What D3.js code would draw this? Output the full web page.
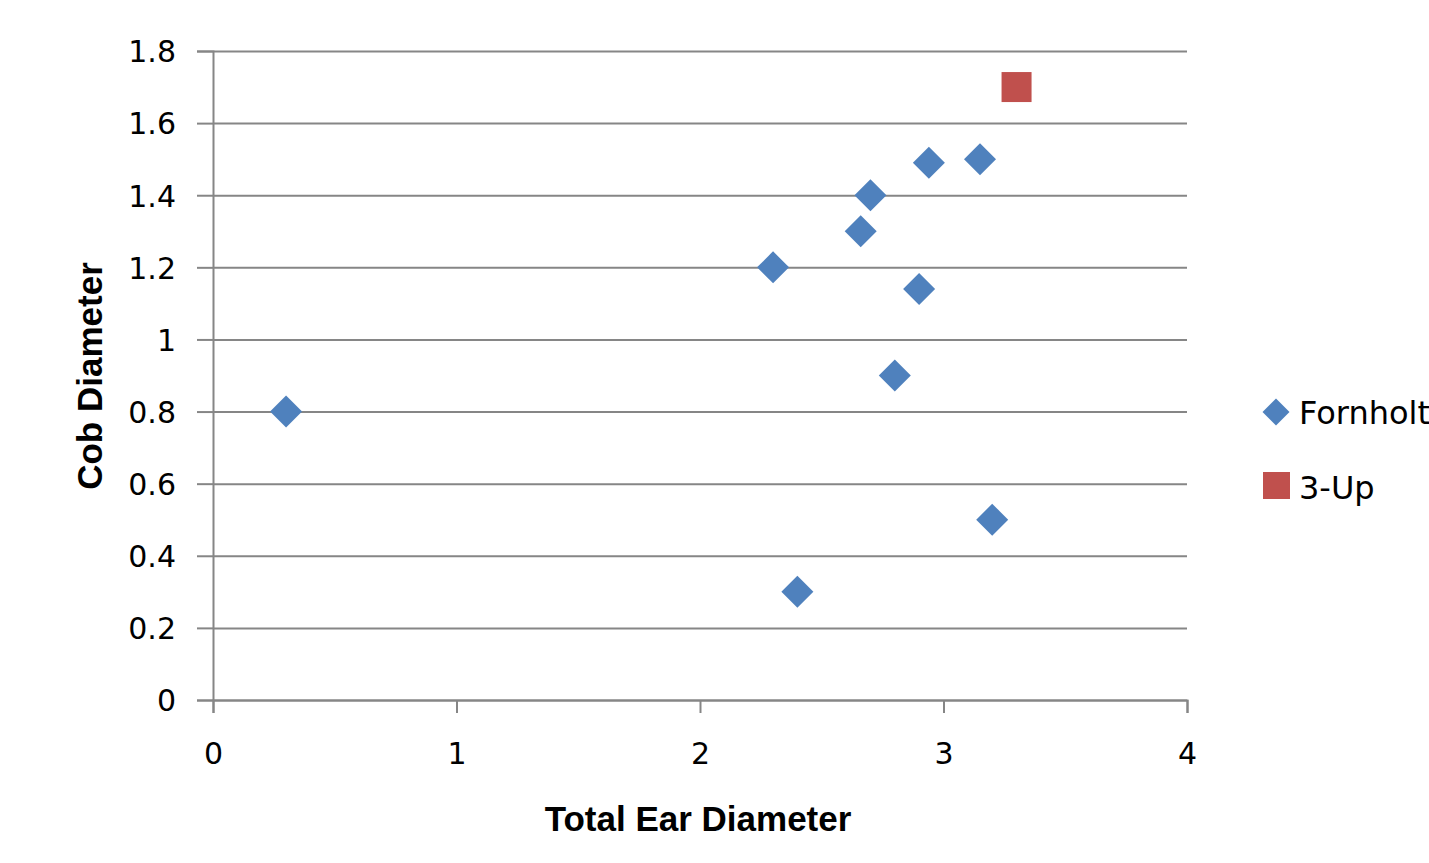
<!DOCTYPE html>
<html>
<head>
<meta charset="utf-8">
<script src="https://cdn.jsdelivr.net/npm/d3@7"></script>
<style>
  body { margin: 0; background: #fff; }
  svg text { fill: #000; }
</style>
</head>
<body>
<div class="chart"></div>
<script>
// data
const fornholtX = [0.3, 2.3, 2.4, 2.66, 2.7, 2.8, 2.9, 2.94, 3.15, 3.2];
const fornholtY = [0.8, 1.2, 0.3, 1.3, 1.4, 0.9, 1.14, 1.49, 1.5, 0.5];
const threeUpX = [3.3];
const threeUpY = [1.7];
const xTicks = [0, 1, 2, 3, 4];
const yTicks = [0, 0.2, 0.4, 0.6, 0.8, 1, 1.2, 1.4, 1.6, 1.8];
const seriesNames = ["Fornholt", "3-Up"];

let width = 1429, height = 863;
let plot = {left: 213, right: 1187, top: 51, bottom: 700};
let gridColor = "#868686";

let svg = d3.select(".chart").append("svg")
  .attr("width", width)
  .attr("height", height);

let x = d3.scaleLinear().domain([0, 4]).range([plot.left, plot.right]);
let y = d3.scaleLinear().domain([0, 1.8]).range([plot.bottom, plot.top]);

// horizontal gridlines
svg.append("g")
  .attr("transform", "translate(" + plot.left + ",0)")
  .call(d3.axisLeft(y).tickValues(yTicks)
    .tickSize(-(plot.right - plot.left)).tickFormat(""))
  .call(g => g.select(".domain").remove())
  .call(g => g.selectAll(".tick line").attr("stroke", gridColor).attr("stroke-width", 2));

// y axis
svg.append("g")
  .attr("transform", "translate(" + plot.left + ",0)")
  .call(d3.axisLeft(y).tickValues(yTicks).tickSize(16).tickPadding(21)
    .tickFormat(d => String(+d.toFixed(1))))
  .call(g => g.select(".domain").attr("stroke", gridColor).attr("stroke-width", 2))
  .call(g => g.selectAll(".tick line").attr("stroke", gridColor).attr("stroke-width", 2))
  .call(g => g.selectAll("text")
    .attr("font-family", "DejaVu Sans").attr("font-size", 30).attr("fill", "#000")
    .attr("dy", "0.36em"));

// x axis
svg.append("g")
  .attr("transform", "translate(0," + plot.bottom + ")")
  .call(d3.axisBottom(x).tickValues(xTicks).tickSize(13).tickPadding(30)
    .tickFormat(d3.format("d")))
  .call(g => g.select(".domain").attr("stroke", gridColor).attr("stroke-width", 2))
  .call(g => g.selectAll(".tick line").attr("stroke", gridColor).attr("stroke-width", 2))
  .call(g => g.selectAll("text")
    .attr("font-family", "DejaVu Sans").attr("font-size", 30).attr("fill", "#000"));

// axis titles
svg.append("text")
  .attr("x", 698).attr("y", 831)
  .attr("text-anchor", "middle")
  .attr("font-family", "Liberation Sans").attr("font-weight", "bold").attr("font-size", 35)
  .text("Total Ear Diameter");

svg.append("text")
  .attr("transform", "translate(102,376) rotate(-90)")
  .attr("text-anchor", "middle")
  .attr("font-family", "Liberation Sans").attr("font-weight", "bold").attr("font-size", 35)
  .text("Cob Diameter");

let diamond = function(r){
  return "M0," + (-r) + "L" + r + ",0L0," + r + "L" + (-r) + ",0Z";
};

// Fornholt series
svg.append("g").selectAll("path")
  .data(fornholtX.map((d, i) => ({x: d, y: fornholtY[i]})))
  .enter()
  .append("path")
  .attr("d", diamond(16))
  .attr("transform", d => "translate(" + x(d.x) + "," + y(d.y) + ")")
  .attr("fill", "#4F81BD");

// 3-Up series
let sq = 30;
svg.append("g").selectAll("rect")
  .data(threeUpX.map((d, i) => ({x: d, y: threeUpY[i]})))
  .enter()
  .append("rect")
  .attr("x", d => x(d.x) - sq / 2)
  .attr("y", d => y(d.y) - sq / 2)
  .attr("width", sq).attr("height", sq)
  .attr("fill", "#C0504D");

// legend
let legend = svg.append("g");
legend.append("path")
  .attr("d", diamond(13.5))
  .attr("transform", "translate(1276,412)")
  .attr("fill", "#4F81BD");
legend.append("rect")
  .attr("x", 1263).attr("y", 472).attr("width", 27).attr("height", 27)
  .attr("fill", "#C0504D");
legend.selectAll("text")
  .data(seriesNames)
  .enter()
  .append("text")
  .attr("x", 1299)
  .attr("y", (d, i) => 412 + i * 75)
  .attr("dy", "0.36em")
  .attr("font-family", "DejaVu Sans").attr("font-size", 32)
  .text(d => d);
</script>
</body>
</html>
